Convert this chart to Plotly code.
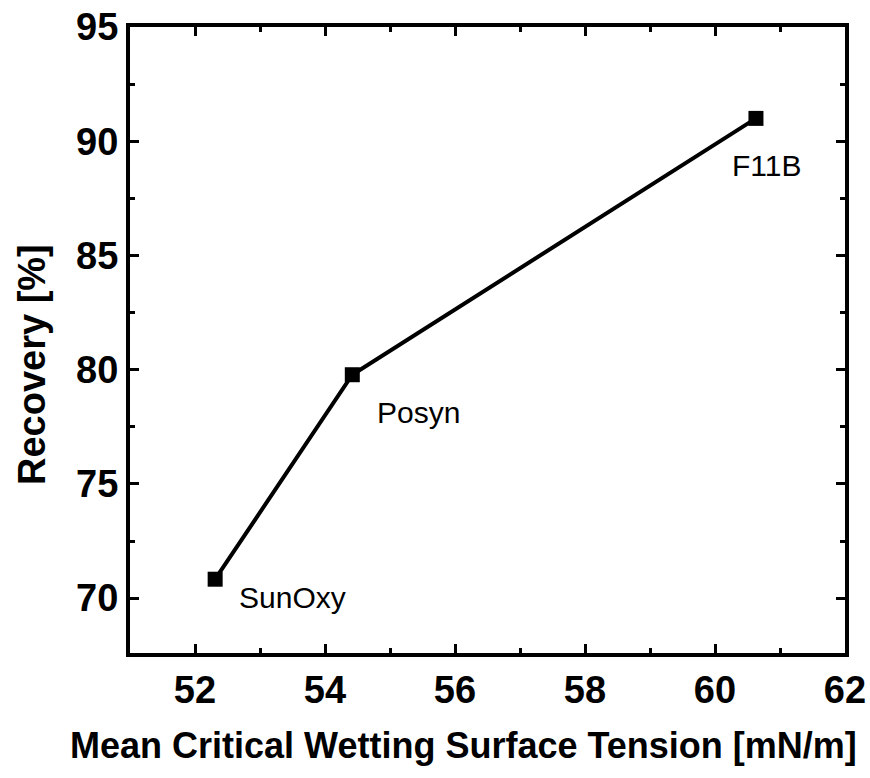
import plotly.graph_objects as go

# Data
names = ["SunOxy", "Posyn", "F11B"]
tension = [52.31, 54.42, 60.63]
recovery = [70.83, 79.78, 91.0]

x_ticks = [52, 54, 56, 58, 60, 62]
y_ticks = [70, 75, 80, 85, 90, 95]

# label offsets in px (style, not data)
label_shift = {"SunOxy": (22, -18), "Posyn": (23, -38), "F11B": (-26, -47)}

FONT = "Liberation Sans, Arial, Helvetica, sans-serif"

fig = go.Figure()
fig.add_trace(go.Scatter(
    x=tension, y=recovery, mode="lines+markers",
    line=dict(color="black", width=4),
    marker=dict(symbol="square", size=15, color="black"),
    showlegend=False,
))

for n, xv, yv in zip(names, tension, recovery):
    dx, dy = label_shift[n]
    fig.add_annotation(x=xv, y=yv, text=n, showarrow=False,
                       xanchor="left", yanchor="middle",
                       xshift=dx, yshift=dy,
                       font=dict(family=FONT, size=30, color="black"))

# y-axis title as rotated annotation (sits slightly below plot centre in the original)
fig.add_annotation(xref="paper", yref="paper", x=0, y=0.5, xshift=-98, yshift=-25,
                   text="Recovery [%]", textangle=-90, showarrow=False,
                   xanchor="center", yanchor="middle",
                   font=dict(family=FONT, size=38, color="black", weight="bold"))

# x-axis title as annotation, starting at the same left edge as in the original
fig.add_annotation(xref="paper", yref="paper", x=0, y=0, xshift=-62, yshift=-92,
                   text="Mean Critical Wetting Surface Tension [mN/m]", showarrow=False,
                   xanchor="left", yanchor="middle",
                   font=dict(family=FONT, size=36, color="black", weight="bold"))

axis_common = dict(
    showline=True, linecolor="black", linewidth=4, mirror="ticks",
    ticks="inside", ticklen=9, tickwidth=3, tickcolor="black",
    showgrid=False, zeroline=False,
    tickfont=dict(family=FONT, size=38, color="black", weight="bold"),
)

fig.update_xaxes(
    range=[51, 62], tickvals=x_ticks,
    minor=dict(dtick=1, tick0=51, ticks="inside", ticklen=5, tickwidth=3, tickcolor="black"),
    **axis_common,
)
fig.update_yaxes(
    range=[67.6, 95], tickvals=y_ticks,
    minor=dict(dtick=2.5, tick0=70, ticks="inside", ticklen=5, tickwidth=3, tickcolor="black"),
    **axis_common,
)

fig.update_layout(
    width=870, height=778,
    margin=dict(l=130, r=25, t=27, b=125, autoexpand=False),
    plot_bgcolor="white", paper_bgcolor="white",
)

fig.write_html("out.html")
